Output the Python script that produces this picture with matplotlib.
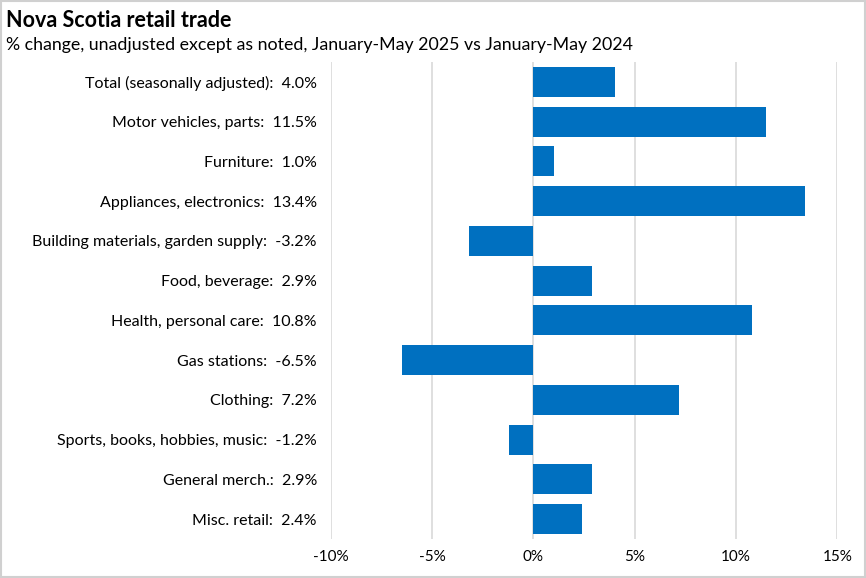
import matplotlib.pyplot as plt
import numpy as np

plt.rcParams['font.family'] = ['Lato', 'DejaVu Sans']

categories = ["Total (seasonally adjusted)", "Motor vehicles, parts", "Furniture",
              "Appliances, electronics", "Building materials, garden supply",
              "Food, beverage", "Health, personal care", "Gas stations", "Clothing",
              "Sports, books, hobbies, music", "General merch.", "Misc. retail"]
values = [4.0, 11.5, 1.0, 13.4, -3.2, 2.9, 10.8, -6.5, 7.2, -1.2, 2.9, 2.4]
xticks = [-10, -5, 0, 5, 10, 15]

fig = plt.figure(figsize=(8.66, 5.78), dpi=100)
ax = fig.add_axes([0.382, 0.0675, 0.585, 0.8252])

y = np.arange(len(categories))
ax.barh(y, values, height=0.75, color='#0070C0', zorder=3)
ax.set_ylim(len(categories) - 0.5, -0.5)
ax.set_xlim(-10, 15)
ax.set_yticks(y)
ax.set_yticklabels([f"{c}:  {v:.1f}%" for c, v in zip(categories, values)], fontsize=11.5)
ax.set_xticks(xticks)
ax.set_xticklabels([f"{t}%" for t in xticks], fontsize=11)
ax.tick_params(axis='both', length=0)
ax.tick_params(axis='y', pad=10)
ax.tick_params(axis='x', pad=8)
ax.grid(axis='x', color='#d9d9d9', linewidth=1.2, zorder=0)
for s in ax.spines.values():
    s.set_visible(False)

fig.text(0.007, 0.965, "Nova Scotia retail trade", fontsize=15.5, fontweight='bold', va='center')
fig.text(0.007, 0.923, "% change, unadjusted except as noted, January-May 2025 vs January-May 2024",
         fontsize=12.8, va='center')

fig.patches.append(plt.Rectangle((0.001, 0.001), 0.998, 0.998, transform=fig.transFigure,
                                 fill=False, edgecolor='#d0d0d0', linewidth=1.5))

fig.savefig("out.png", dpi=100)
